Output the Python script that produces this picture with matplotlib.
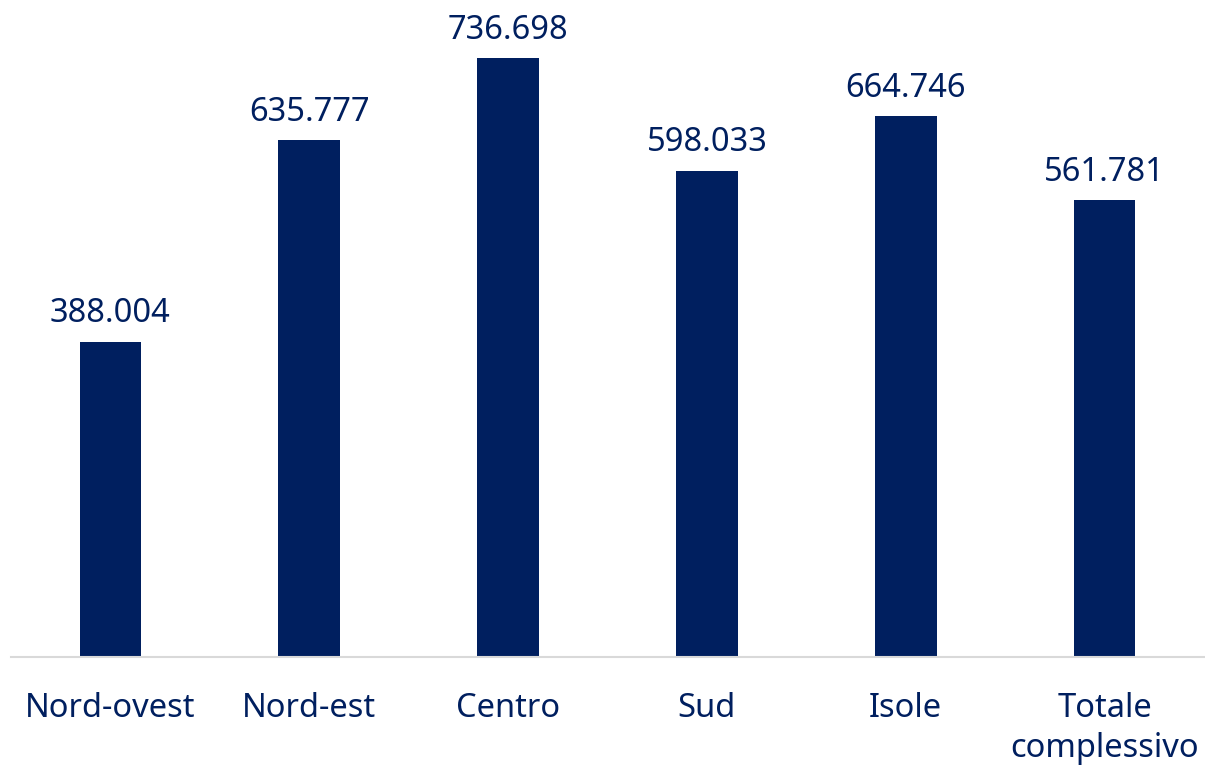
import numpy as np
import matplotlib
matplotlib.use("Agg")
import matplotlib.pyplot as plt

# dati
regioni = ["Nord-ovest", "Nord-est", "Centro", "Sud", "Isole", "Totale\ncomplessivo"]
valori = [388.004, 635.777, 736.698, 598.033, 664.746, 561.781]
etichette = ["388.004", "635.777", "736.698", "598.033", "664.746", "561.781"]

blu = "#001f5f"
plt.rcParams['font.family'] = ['Noto Sans', 'DejaVu Sans']

fig = plt.figure(figsize=(12.05, 7.74), dpi=100)
ax = fig.add_axes([11 / 1205, 117 / 774, 1193 / 1205, 657 / 774])

x = np.arange(len(regioni))
barre = ax.bar(x, valori, width=0.31, color=blu, zorder=2)

for xi, v, t in zip(x, valori, etichette):
    ax.annotate(t, (xi, v), xytext=(0, 14), textcoords="offset points",
                ha="center", va="baseline", fontsize=23.5, color=blu)

ax.set_xlim(-0.5, len(regioni) - 0.5)
ax.set_ylim(0, 808)
ax.set_xticks(x)
ax.set_xticklabels(regioni, fontsize=23.5, color=blu, linespacing=1.3)
ax.tick_params(axis="x", length=0, pad=25)
ax.set_yticks([])
for s in ["top", "left", "right"]:
    ax.spines[s].set_visible(False)
ax.spines["bottom"].set_color("#d9d9d9")
ax.spines["bottom"].set_linewidth(1.5)

fig.savefig("out.png", dpi=100)
